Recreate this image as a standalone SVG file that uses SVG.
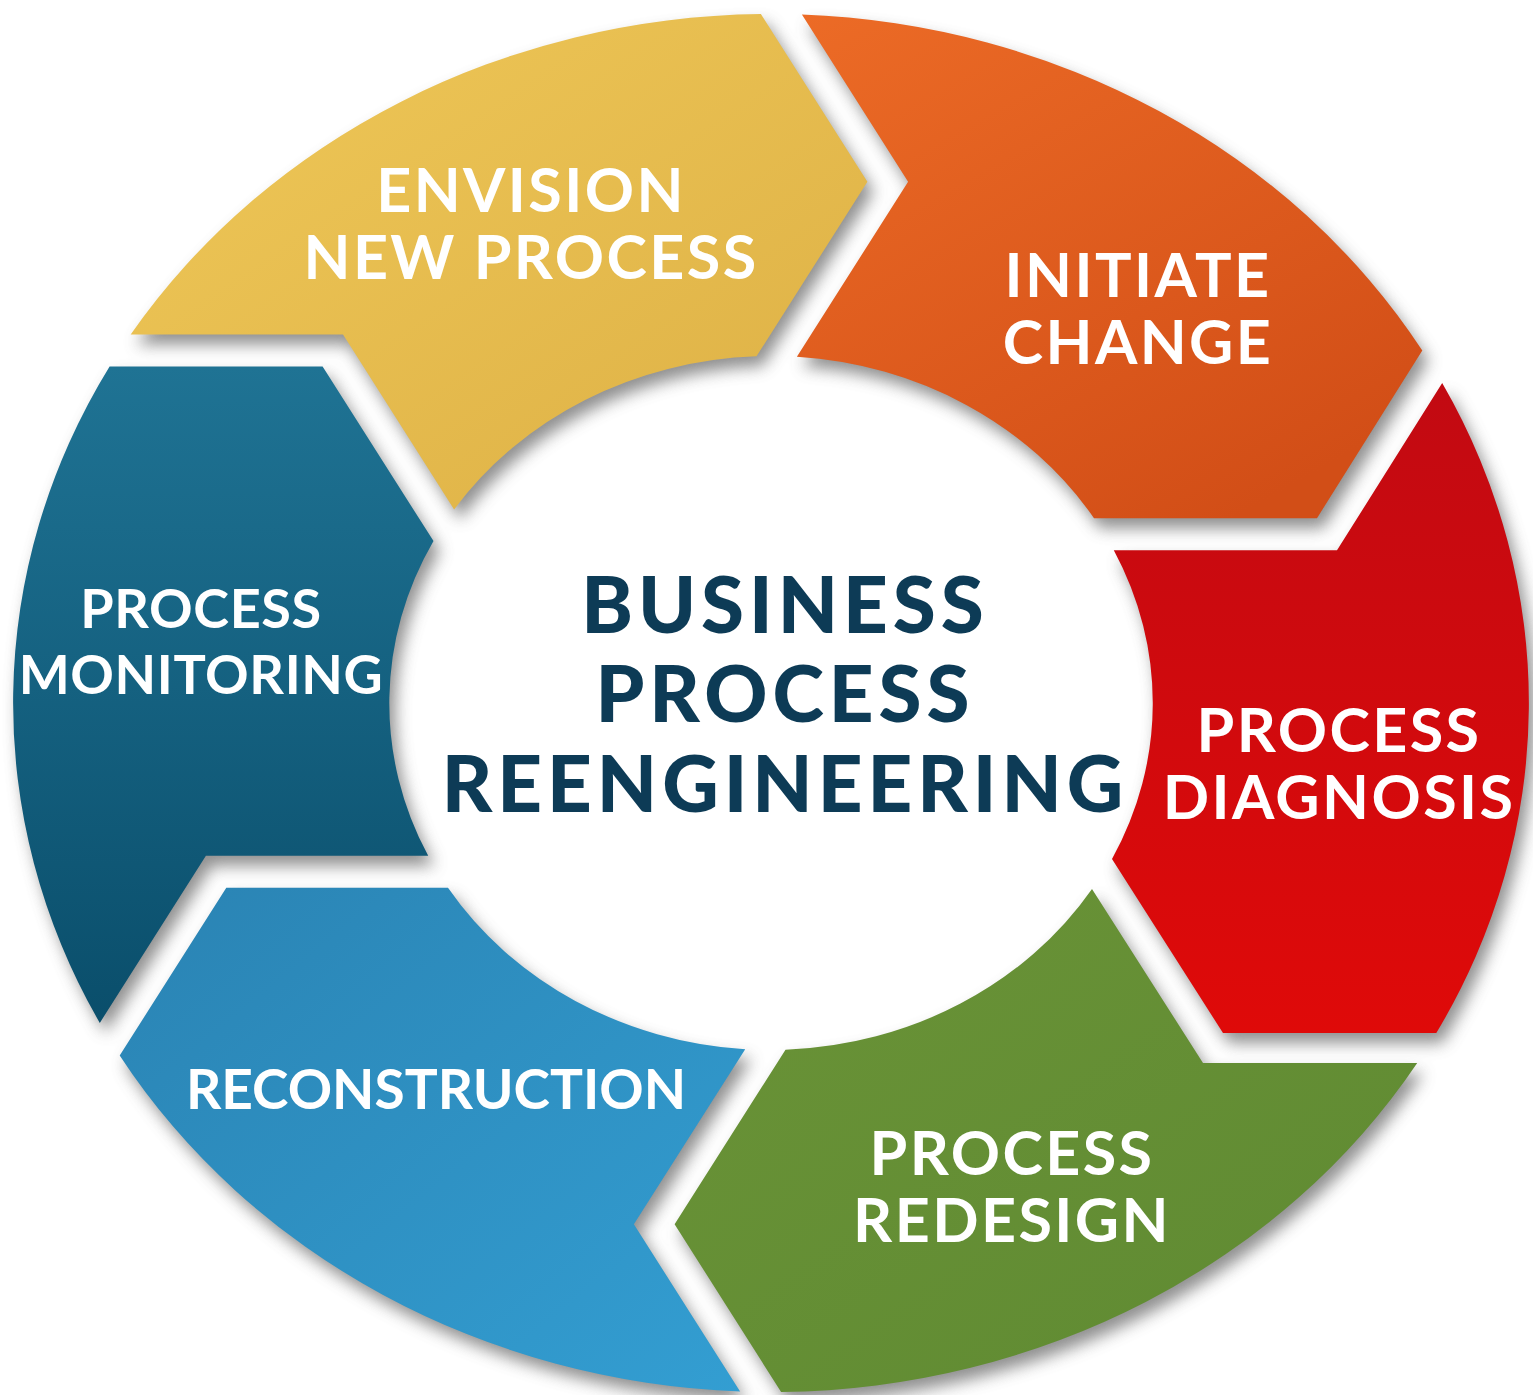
<svg xmlns="http://www.w3.org/2000/svg" xmlns:xlink="http://www.w3.org/1999/xlink" width="1533" height="1395" viewBox="0 0 1533 1395">
<defs>
<style>
.lbl{font-family:Lato,'Open Sans','Liberation Sans',sans-serif;font-weight:700;fill:#ffffff;text-anchor:middle;font-size:61px;letter-spacing:2.4px}
.title{font-family:Lato,'Open Sans','Liberation Sans',sans-serif;font-weight:900;fill:#0d3b56;text-anchor:middle;font-size:78px;letter-spacing:5px}
</style>
<linearGradient id="gYellow" x1="0" y1="0" x2="1" y2="1"><stop offset="0" stop-color="#efc858"/><stop offset="1" stop-color="#ddb045"/></linearGradient>
<linearGradient id="gOrange" x1="0" y1="0" x2="0.7" y2="1"><stop offset="0" stop-color="#ec6b26"/><stop offset="1" stop-color="#d24e17"/></linearGradient>
<linearGradient id="gRed" x1="0" y1="0" x2="0" y2="1"><stop offset="0" stop-color="#c20a12"/><stop offset="1" stop-color="#df0a09"/></linearGradient>
<linearGradient id="gGreen" x1="0" y1="0" x2="1" y2="1"><stop offset="0" stop-color="#6a9337"/><stop offset="1" stop-color="#5f8a32"/></linearGradient>
<linearGradient id="gBlue" x1="0" y1="0" x2="1" y2="1"><stop offset="0" stop-color="#2a83b3"/><stop offset="1" stop-color="#339ed2"/></linearGradient>
<linearGradient id="gTeal" x1="0" y1="0" x2="0" y2="1"><stop offset="0" stop-color="#1f7394"/><stop offset="1" stop-color="#0a4e6b"/></linearGradient>
<filter id="soft" x="-10%" y="-10%" width="120%" height="120%"><feGaussianBlur stdDeviation="8"/></filter>
<path id="pOrange" d="M801.9,14.6 A757.9,689 0 0 1 1422.3,350.5 L1317,518.2 L1094,518.2 A381.7,347 0 0 0 796.9,356.8 L908.1,181.7 Z"/>
<path id="pRed" d="M1442.2,383.1 A757.9,689 0 0 1 1436.3,1033 L1223,1033 L1112,859 A381.7,347 0 0 0 1113.8,550.2 L1337,550.3 Z"/>
<path id="pGreen" d="M1417.2,1063 A757.9,689 0 0 1 781.1,1392 L674.6,1224.2 L785.5,1049.7 A381.7,347 0 0 0 1092,889 L1203,1063 Z"/>
<path id="pBlue" d="M740.1,1391.4 A757.9,689 0 0 1 119.7,1055.5 L226.3,887.8 L448,887.8 A381.7,347 0 0 0 745.2,1049.2 L633.9,1224.3 Z"/>
<path id="pTeal" d="M99.8,1022.9 A757.9,689 0 0 1 109.6,366.5 L322.6,366.6 L433.5,541.1 A381.7,347 0 0 0 428.2,855.8 L205.9,855.7 Z"/>
<path id="pYellow" d="M130.7,334.5 A757.9,689 0 0 1 760.9,14 L867.4,181.8 L756.5,356.3 A381.7,347 0 0 0 454.1,509.5 L343,334.4 Z"/>
</defs>
<rect width="1533" height="1395" fill="#ffffff"/>
<g id="shadows" filter="url(#soft)" fill="#6a6a6a" opacity="0.75" transform="translate(6 10)">
<use xlink:href="#pYellow"/><use xlink:href="#pOrange"/><use xlink:href="#pRed"/><use xlink:href="#pGreen"/><use xlink:href="#pBlue"/><use xlink:href="#pTeal"/>
</g>
<g id="envision">
<use xlink:href="#pYellow" fill="url(#gYellow)"/>
<text class="lbl" x="531" y="212">ENVISION</text>
<text class="lbl" x="531" y="279">NEW PROCESS</text>
</g>
<g id="initiate">
<use xlink:href="#pOrange" fill="url(#gOrange)"/>
<text class="lbl" x="1138" y="297">INITIATE</text>
<text class="lbl" x="1138" y="364">CHANGE</text>
</g>
<g id="diagnosis">
<use xlink:href="#pRed" fill="url(#gRed)"/>
<text class="lbl" x="1339" y="752">PROCESS</text>
<text class="lbl" x="1339" y="819">DIAGNOSIS</text>
</g>
<g id="redesign">
<use xlink:href="#pGreen" fill="url(#gGreen)"/>
<text class="lbl" x="1012" y="1175">PROCESS</text>
<text class="lbl" x="1012" y="1242">REDESIGN</text>
</g>
<g id="reconstruction">
<use xlink:href="#pBlue" fill="url(#gBlue)"/>
<text class="lbl" x="436" y="1109" style="font-size:55px;letter-spacing:0">RECONSTRUCTION</text>
</g>
<g id="monitoring">
<use xlink:href="#pTeal" fill="url(#gTeal)"/>
<text class="lbl" x="201" y="628" style="font-size:54px;letter-spacing:0.6px">PROCESS</text>
<text class="lbl" x="201" y="694" style="font-size:54px;letter-spacing:0.6px">MONITORING</text>
</g>
<g id="center">
<text class="title" x="785" y="633">BUSINESS</text>
<text class="title" x="785" y="722">PROCESS</text>
<text class="title" x="785" y="812">REENGINEERING</text>
</g>
</svg>
